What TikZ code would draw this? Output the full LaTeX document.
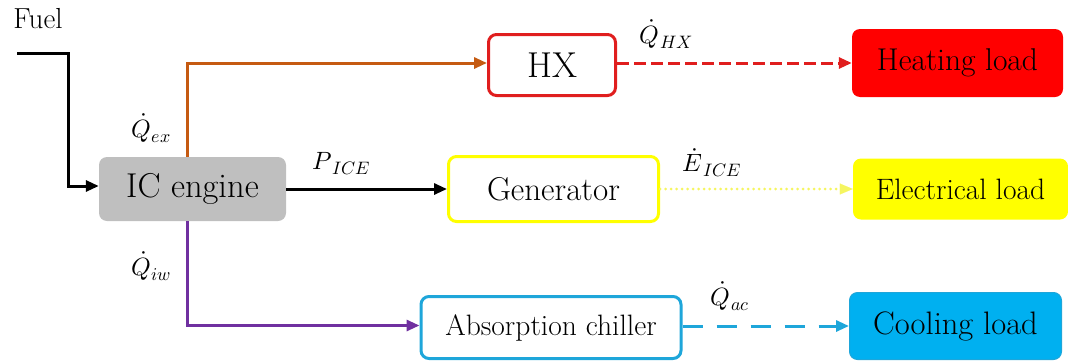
\documentclass[tikz,border=0pt]{standalone}
\usepackage{unicode-math}
\usetikzlibrary{arrows.meta}
\definecolor{cgray}{HTML}{BFBFBF}
\definecolor{corange}{HTML}{C55A11}
\definecolor{cred}{HTML}{E01E1E}
\definecolor{cyel}{HTML}{FFFF00}
\definecolor{cyeldot}{HTML}{F5F560}
\definecolor{ccyan}{HTML}{1EA6DA}
\definecolor{ccool}{HTML}{00B0F0}
\definecolor{cpurple}{HTML}{7030A0}
\newcommand\flowlab[2]{$#1$\kern0.5pt\raisebox{-5pt}{\fontsize{18}{20}\selectfont$#2$}}
\tikzset{
  box/.style={rounded corners=8pt, inner sep=0pt, align=center},
  conn/.style={line width=3pt, -{Triangle[length=13pt,width=11pt]}},
  lbl/.style={inner sep=0pt, font=\fontsize{25}{30}\selectfont},
}
\begin{document}
\begin{tikzpicture}[x=1pt,y=-1pt]
\useasboundingbox (0,0) rectangle (1068,362);
% nodes
\node[box, fill=cgray, minimum width=187pt, minimum height=64pt, font=\fontsize{34.5}{40}\selectfont] (ic) at (192.5,189) {IC engine};
\node[box, draw=cred, line width=3pt, minimum width=127pt, minimum height=61pt, font=\fontsize{36}{42}\selectfont] (hx) at (552,65) {HX};
\node[box, draw=cyel, line width=3pt, minimum width=210pt, minimum height=65pt, font=\fontsize{33}{38}\selectfont] (gen) at (553.5,189) {Generator};
\node[box, draw=ccyan, line width=3pt, minimum width=260pt, minimum height=62pt, font=\fontsize{29.5}{34}\selectfont] (ac) at (551,327.5) {Absorption chiller};
\node[box, fill=red, minimum width=211pt, minimum height=68pt, font=\fontsize{31.5}{36}\selectfont] (heat) at (957.5,63) {Heating load};
\node[box, fill=cyel, minimum width=215pt, minimum height=61pt, font=\fontsize{29.5}{34}\selectfont] (elec) at (960.5,189) {Electrical load};
\node[box, fill=ccool, draw=ccyan, line width=1pt, minimum width=212pt, minimum height=67pt, font=\fontsize{32.5}{38}\selectfont] (cool) at (955.5,326) {Cooling load};
% texts
\node[inner sep=0pt, font=\fontsize{29}{34}\selectfont] (fueltxt) at (38,19) {Fuel};
\node[lbl] (qex) at (151,128) {\flowlab{\dot{Q}}{ex}};
\node[lbl] (qiw) at (151,266) {\flowlab{\dot{Q}}{iw}};
\node[lbl] (pice) at (341,164) {\flowlab{P}{ICE}};
\node[lbl] (qhx) at (666,34) {\flowlab{\dot{Q}}{HX}};
\node[lbl] (eice) at (712,163) {\flowlab{\dot{E}}{ICE}};
\node[lbl] (qac) at (730,296) {\flowlab{\dot{Q}}{ac}};
% connectors
\coordinate (fuel) at (17,53);
\coordinate (fbend) at (68,53);
\draw[conn, black] (fuel) -- (fbend) |- ([yshift=3pt]ic.west);
\draw[conn, corange] ([xshift=-5.5pt]ic.north) |- ([yshift=2pt]hx.west);
\draw[conn, cpurple] ([xshift=-5.5pt]ic.south) |- ([yshift=2pt]ac.west);
\draw[conn, black] (ic.east) -- (gen.west);
\draw[conn, cred, dash pattern=on 12pt off 5pt] (heat.west -| hx.east) -- (heat.west);
\draw[line width=3pt, cyeldot, line cap=round, dash pattern=on 0pt off 5.5pt] (gen.east) -- ([xshift=-12pt]elec.west);
\draw[cyeldot, -{Triangle[length=13pt,width=11pt]}, line width=0.1pt] ([xshift=-13pt]elec.west) -- (elec.west);
\draw[conn, ccyan, dash pattern=on 20pt off 14pt] (cool.west -| ac.east) -- (cool.west);
\end{tikzpicture}
\end{document}
